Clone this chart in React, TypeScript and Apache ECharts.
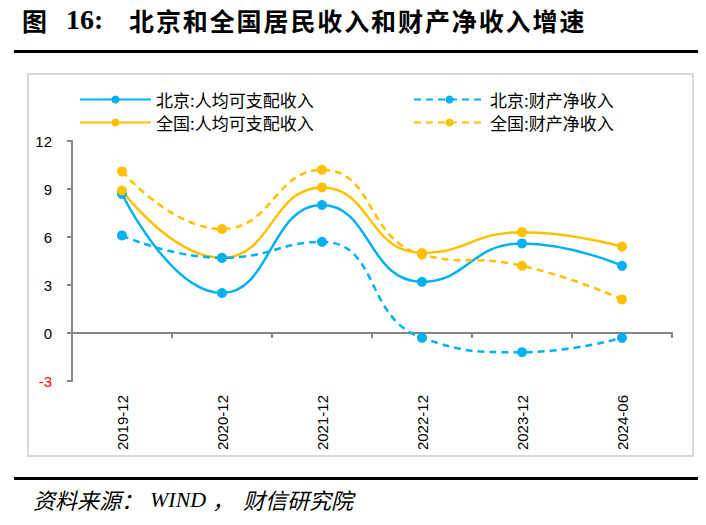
import React, { useEffect, useRef } from "react";
import * as echarts from "echarts";

const categories = ["2019-12", "2020-12", "2021-12", "2022-12", "2023-12", "2024-06"];
const bjDisposable = [8.7, 2.5, 8.0, 3.2, 5.6, 4.2];
const cnDisposable = [8.9, 4.7, 9.1, 5.0, 6.3, 5.4];
const bjProperty = [6.1, 4.7, 5.7, -0.3, -1.2, -0.3];
const cnProperty = [10.1, 6.5, 10.2, 4.9, 4.2, 2.1];
const seriesNames = ["北京:人均可支配收入", "全国:人均可支配收入", "北京:财产净收入", "全国:财产净收入"];
const titleChars = "北京和全国居民收入和财产净收入增速".split("");

const BLUE = "#00B0F0";
const YELLOW = "#FFC000";

export default function App() {
  const ref = useRef<HTMLDivElement>(null);
  useEffect(() => {
    document.body.style.margin = "0";
    const chart = echarts.init(ref.current!, null, { renderer: "svg" });
    const mk = (name: string, data: number[], color: string, dashed: boolean) => ({
      name,
      type: "line",
      data,
      smooth: 0.5,
      symbol: "circle",
      symbolSize: 10,
      itemStyle: { color },
      lineStyle: { color, width: 2.5, type: dashed ? [7, 5] : "solid" },
    });
    const cjk = "Noto Sans CJK SC";
    const src = (text: string, x: number, family: string) => ({
      type: "text",
      x,
      y: 488,
      style: { text, fontSize: 22, fontStyle: "italic", fontFamily: family, fill: "#000" },
    });
    const graphics: any[] = [
      { type: "text", x: 22, y: 7, style: { text: "图", fontSize: 25, fontWeight: "bold", fontFamily: cjk, fill: "#000" } },
      { type: "text", x: 66, y: 5, style: { text: "16:", fontSize: 28, fontWeight: "bold", fontFamily: "Liberation Serif", fill: "#000" } },
      ...titleChars.map((c, i) => ({
        type: "text",
        x: 129 + i * 26.9,
        y: 7,
        style: { text: c, fontSize: 25, fontWeight: "bold", fontFamily: cjk, fill: "#000" },
      })),
      { type: "rect", shape: { x: 14, y: 50, width: 684, height: 3 }, style: { fill: "#000" } },
      { type: "rect", shape: { x: 28, y: 74, width: 665, height: 382 }, style: { fill: "none", stroke: "#D9D9D9", lineWidth: 2 } },
      { type: "rect", shape: { x: 14, y: 477, width: 684, height: 3 }, style: { fill: "#000" } },
      src("资料来源：", 33, cjk),
      src("WIND", 150, "Liberation Serif"),
      src("，", 212, cjk),
      src("财信研究院", 243, cjk),
    ];
    const legendText = { fontSize: 17, color: "#000", fontFamily: cjk };
    chart.setOption({
      animation: false,
      backgroundColor: "#fff",
      graphic: graphics,
      legend: [
        {
          left: 74,
          top: 86,
          orient: "vertical",
          itemWidth: 71,
          itemHeight: 10,
          itemGap: 6,
          data: [seriesNames[0], seriesNames[1]],
          textStyle: legendText,
        },
        {
          left: 408,
          top: 86,
          orient: "vertical",
          itemWidth: 71,
          itemHeight: 10,
          itemGap: 6,
          data: [seriesNames[2], seriesNames[3]],
          textStyle: legendText,
        },
      ],
      grid: { left: 72, top: 141, width: 600, height: 240, containLabel: false },
      xAxis: {
        type: "category",
        data: categories,
        boundaryGap: true,
        axisLine: { onZero: true, lineStyle: { color: "#868686", width: 2 } },
        axisTick: { show: true, length: 5, lineStyle: { color: "#868686", width: 2 } },
        axisLabel: { rotate: 90, margin: 14, fontSize: 15, color: "#000", fontFamily: "Liberation Sans" },
      },
      yAxis: {
        type: "value",
        min: -3,
        max: 12,
        interval: 3,
        splitLine: { show: false },
        axisLine: { show: true, lineStyle: { color: "#868686", width: 2 } },
        axisTick: { show: true, length: 5, lineStyle: { color: "#868686", width: 2 } },
        axisLabel: {
          fontSize: 15,
          margin: 20,
          fontFamily: "Liberation Sans",
          color: (v: any) => (Number(v) < 0 ? "#FF0000" : "#000"),
        },
      },
      series: [
        mk(seriesNames[0], bjDisposable, BLUE, false),
        mk(seriesNames[1], cnDisposable, YELLOW, false),
        mk(seriesNames[2], bjProperty, BLUE, true),
        mk(seriesNames[3], cnProperty, YELLOW, true),
      ],
    });
    return () => chart.dispose();
  }, []);
  return <div ref={ref} style={{ width: 706, height: 525 }} />;
}
